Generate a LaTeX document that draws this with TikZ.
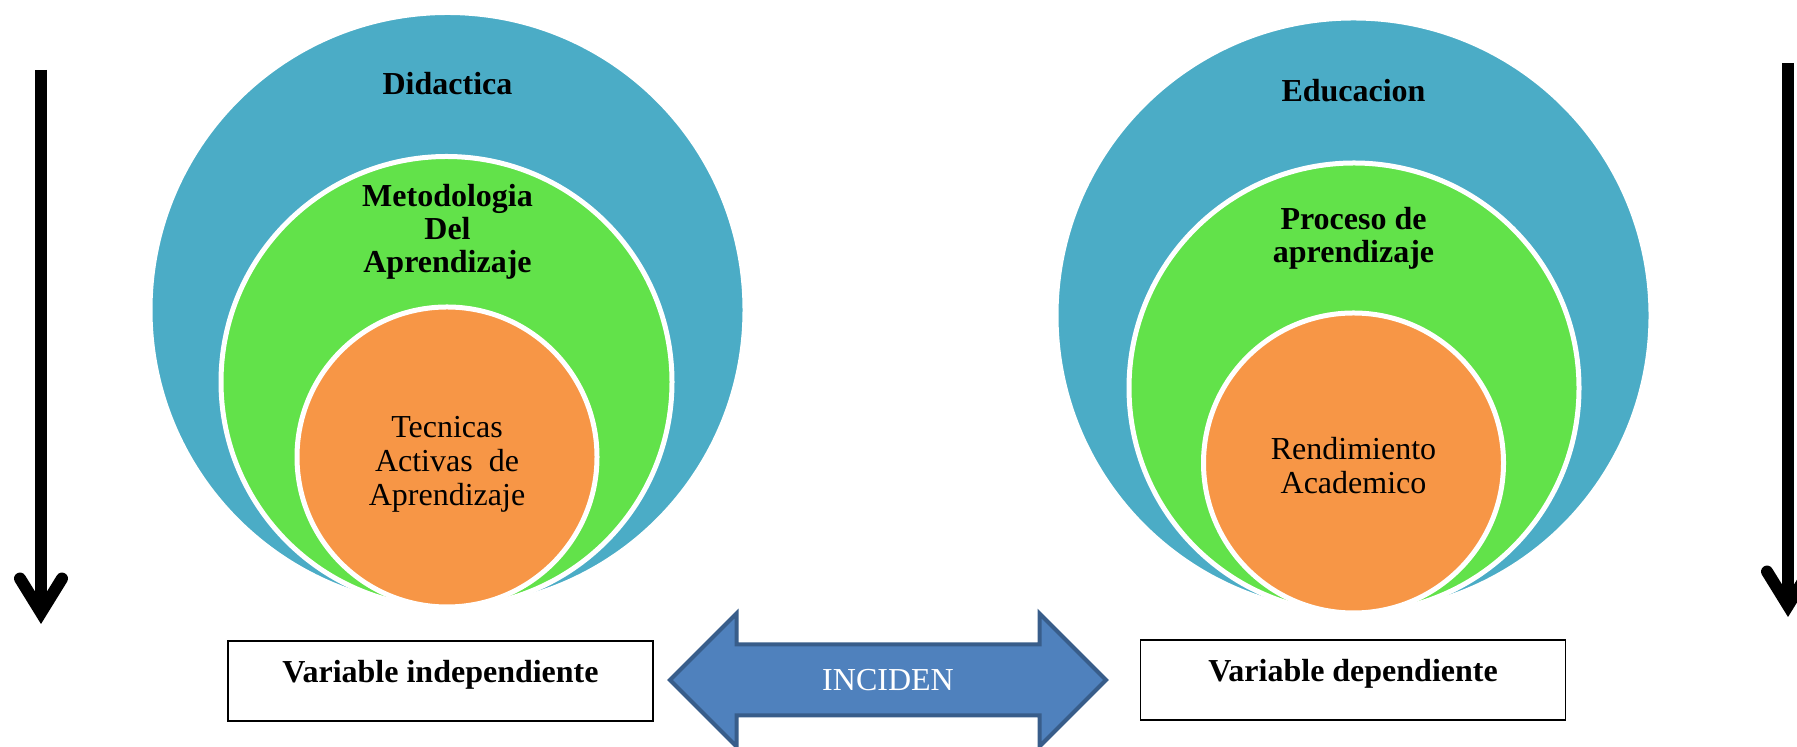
\documentclass[tikz,border=0pt]{standalone}
\usepackage{fontspec}
\setmainfont{Liberation Serif}
\usetikzlibrary{arrows.meta,shapes.arrows}
\definecolor{circblue}{HTML}{4BACC6}
\definecolor{circgreen}{HTML}{62E24A}
\definecolor{circorange}{HTML}{F79646}
\definecolor{arrowfill}{HTML}{4F81BD}
\definecolor{arrowline}{HTML}{385D8A}
\tikzset{
	ring/.style={draw=white, line width=2.5pt},
	outertext/.style={font=\fontsize{16}{16.5}\selectfont\bfseries, align=center},
	innertext/.style={font=\fontsize{16}{17}\selectfont, align=center},
	varbox/.style={draw, line width=0.75pt, inner sep=0pt, minimum width=212.5pt, minimum height=40pt,
		font=\fontsize{16}{17}\selectfont\bfseries, text height=11pt, text depth=9pt},
	flow/.style={line width=6pt, -{Straight Barb[line cap=round, length=17pt, width=21pt]}}
}
\begin{document}
\begin{tikzpicture}[x=0.5pt, y=0.5pt]
		\useasboundingbox (0,0) rectangle (1797,747);
		\def\outerleft{(447.5,437) circle (297.5)}
		\def\middleleft{(446.5,365) circle (225.5)}
		\def\innerleft{(447,290) circle (150)}
		\def\outerright{(1353.5,431.5) circle (297.5)}
		\def\middleright{(1354,359) circle (225)}
		\def\innerright{(1353.5,284) circle (150)}
		\filldraw[ring, fill=circblue]\outerleft;
		\filldraw[ring, fill=circgreen]\middleleft;
		\filldraw[ring, fill=circorange]\innerleft;
		\filldraw[ring, fill=circblue]\outerright;
		\filldraw[ring, fill=circgreen]\middleright;
		\filldraw[ring, fill=circorange]\innerright;
		\node (didactica) at (447.5,663) [outertext] {Didactica};
		\node (metodologia) at (447.5,515) [outertext] {Metodologia\\ Del\\ Aprendizaje};
		\node (tecnicas) at (447,282.5) [innertext] {Tecnicas\\ Activas\ \ de\\ Aprendizaje};
		\node (educacion) at (1353.5,656) [outertext] {Educacion};
		\node (proceso) at (1353.5,508.5) [outertext] {Proceso de\\ aprendizaje};
		\node (rendimiento) at (1353.5,281.5) [innertext] {Rendimiento\\ Academico};
		\node (independiente) at (440.5,66) [varbox] {Variable independiente};
		\node (dependiente) at (1353,67) [varbox] {Variable dependiente};
		\node (inciden) at (888,67) [double arrow, fill=arrowfill, draw=arrowline, line width=2pt,
			inner xsep=0pt, inner ysep=11.5pt, text height=10.5pt, text depth=0pt,
			minimum height=218pt, minimum width=64.5pt, double arrow head extend=15.5pt,
			double arrow tip angle=90, double arrow head indent=0pt,
			text=white, font=\fontsize{16}{17}\selectfont] {INCIDEN};
		\coordinate (leftstart) at (41,677);
		\coordinate (leftend) at (41,123);
		\coordinate (rightstart) at (1788,684);
		\coordinate (rightend) at (1788,130);
		\draw[flow] (leftstart) -- (leftend);
		\draw[flow] (rightstart) -- (rightend);
	\end{tikzpicture}
\end{document}
